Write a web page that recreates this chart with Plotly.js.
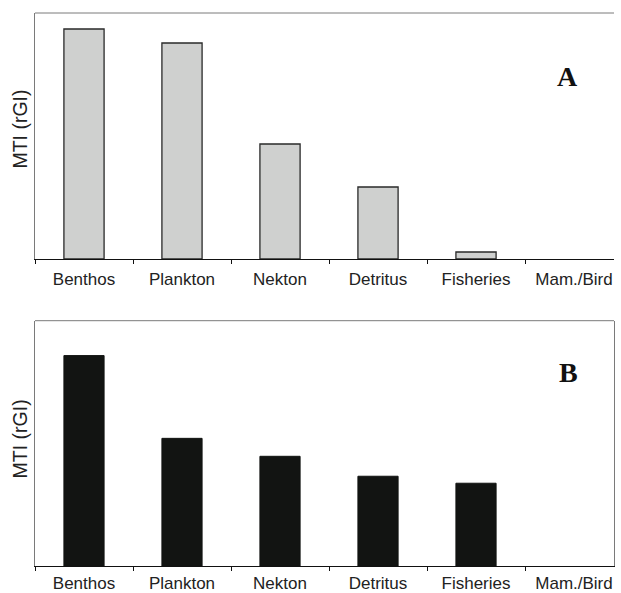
<!DOCTYPE html>
<html>
<head>
<meta charset="utf-8">
<script src="https://cdn.plot.ly/plotly-3.0.1.min.js"></script>
<style>html,body{margin:0;padding:0;background:#fff;}#chart{width:621px;height:593px;}</style>
</head>
<body>
<div id="chart"></div>
<script>
const categories = ["Benthos", "Plankton", "Nekton", "Detritus", "Fisheries", "Mam./Bird"];
const valuesA = [230, 216, 115, 72, 7, 0];
const valuesB = [211, 128, 110, 90, 83, 0];
const panelLabels = ["A", "B"];
const yTitle = "MTI (rGI)";

const frameColor = "#7a7a7a";
const tickFont = {family: "Liberation Sans, Arial, sans-serif", size: 17, color: "#222"};

const traces = [
  {type: "bar", x: categories, y: valuesA, xaxis: "x", yaxis: "y", width: 0.41,
   marker: {color: "#cfd0cf", line: {color: "#2a2a2a", width: valuesA.map(v => v > 0 ? 1.3 : 0)}}, hoverinfo: "skip"},
  {type: "bar", x: categories, y: valuesB, xaxis: "x2", yaxis: "y2", width: 0.41,
   marker: {color: "#121412", line: {color: "#121412", width: valuesB.map(v => v > 0 ? 1 : 0)}}, hoverinfo: "skip"}
];

function xAx(anchor, standoff) {
  return {anchor: anchor, type: "category", range: [-0.5, 5.408], showgrid: false, zeroline: false,
    showline: true, linecolor: "#111", linewidth: 1.2, ticks: "outside", tickson: "boundaries",
    ticklen: 4, tickcolor: "#111", tickwidth: 1, tickfont: tickFont, ticklabelstandoff: standoff, fixedrange: true};
}
function yAx(anchor, domain, mirror) {
  return {anchor: anchor, domain: domain, range: [0, 246], showgrid: false, zeroline: false,
    showline: true, linecolor: frameColor, linewidth: 1, mirror: mirror, ticks: "", showticklabels: false, fixedrange: true};
}

const layout = {
  width: 621, height: 593,
  margin: {l: 35, r: 7, t: 13, b: 27},
  paper_bgcolor: "#fff", plot_bgcolor: "#fff",
  showlegend: false,
  bargap: 0.59,
  xaxis: xAx("y", 4),
  yaxis: yAx("x", [0.5552, 1], false),
  xaxis2: xAx("y2", 1),
  yaxis2: yAx("x2", [0, 0.4436], true),
  shapes: [
    {type: "line", xref: "x domain", yref: "y domain", x0: 0, x1: 1, y0: 1, y1: 1, line: {color: frameColor, width: 1}},
    {type: "line", xref: "x2 domain", yref: "y2 domain", x0: 0, x1: 1, y0: 1, y1: 1, line: {color: frameColor, width: 1}}
  ],
  annotations: [
    {text: panelLabels[0], xref: "x domain", yref: "y domain", x: 0.9197, y: 0.742, showarrow: false,
     xanchor: "center", yanchor: "middle", font: {family: "Liberation Serif, Times New Roman, serif", size: 28, color: "#111", weight: "bold"}},
    {text: panelLabels[1], xref: "x2 domain", yref: "y2 domain", x: 0.9206, y: 0.787, showarrow: false,
     xanchor: "center", yanchor: "middle", font: {family: "Liberation Serif, Times New Roman, serif", size: 28, color: "#111", weight: "bold"}},
    {text: yTitle, xref: "paper", yref: "y domain", x: -0.026, y: 0.53, showarrow: false, textangle: -90,
     xanchor: "center", yanchor: "middle", font: {family: "Liberation Sans, Arial, sans-serif", size: 19.5, color: "#222"}},
    {text: yTitle, xref: "paper", yref: "y2 domain", x: -0.026, y: 0.52, showarrow: false, textangle: -90,
     xanchor: "center", yanchor: "middle", font: {family: "Liberation Sans, Arial, sans-serif", size: 19.5, color: "#222"}}
  ]
};

Plotly.newPlot("chart", traces, layout, {displayModeBar: false, staticPlot: true});
</script>
</body>
</html>
